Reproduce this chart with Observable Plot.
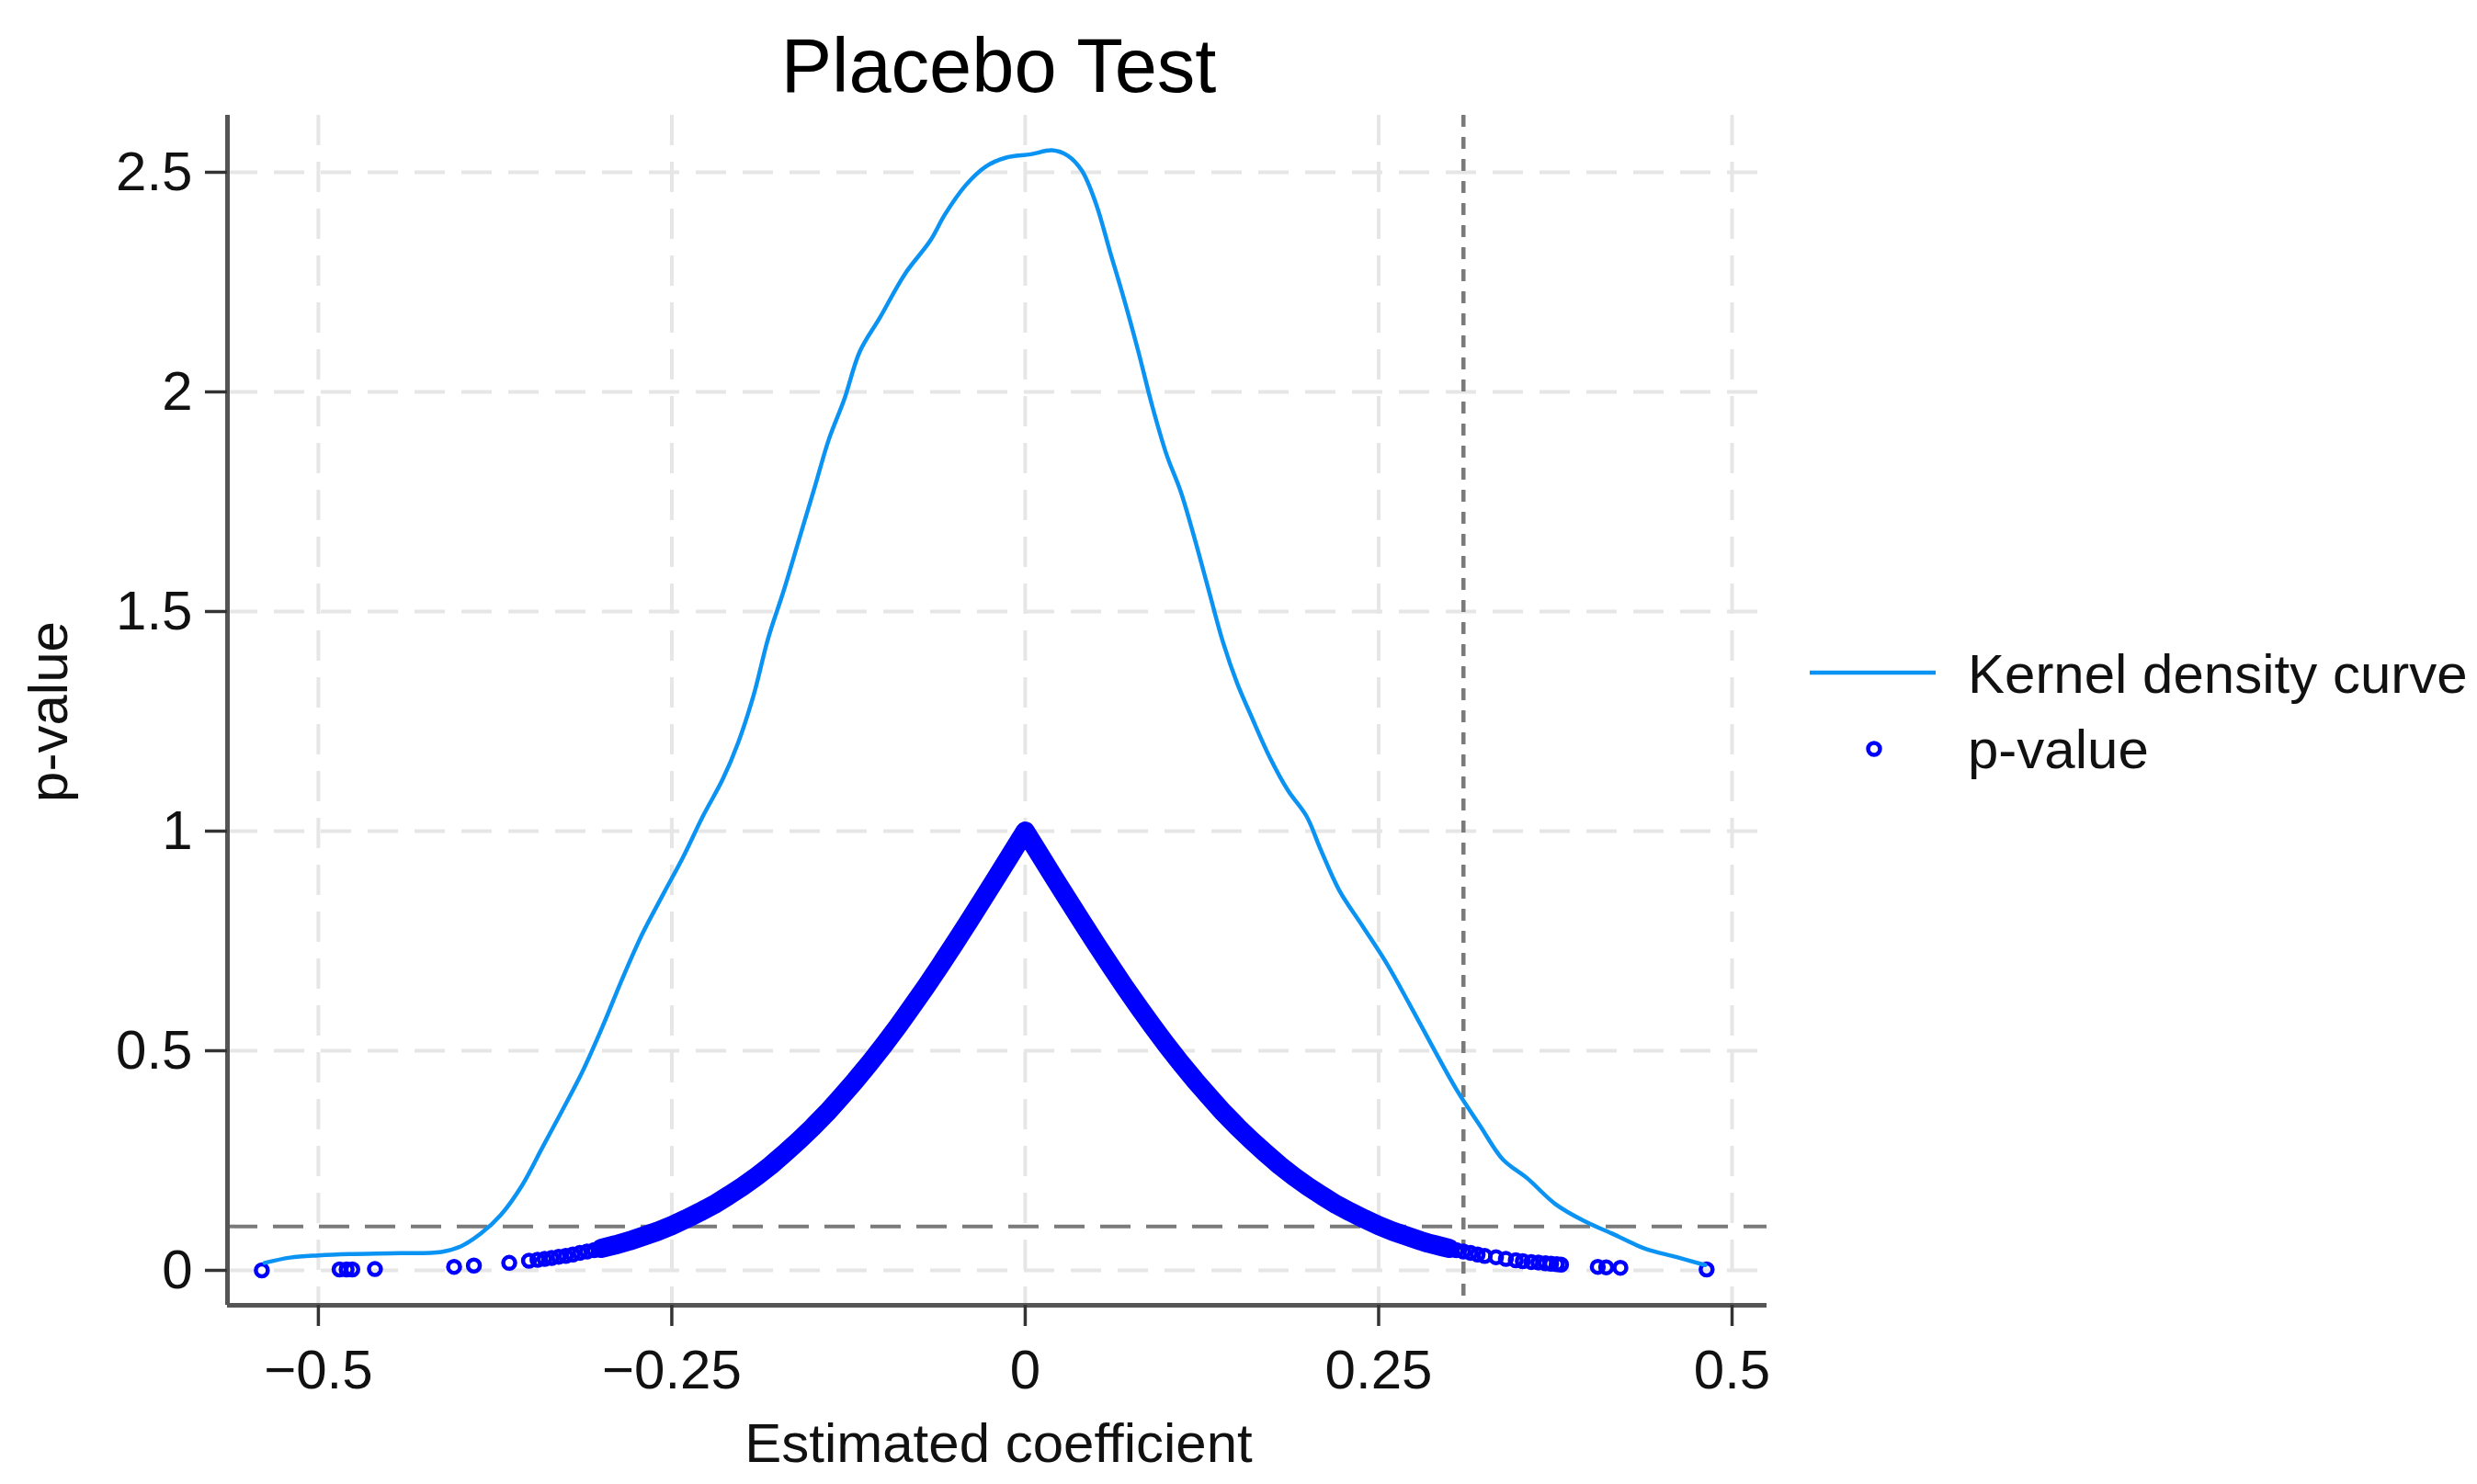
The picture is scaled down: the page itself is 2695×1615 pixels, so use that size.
<!DOCTYPE html>
<html>
<head>
<meta charset="utf-8">
<script src="https://cdn.jsdelivr.net/npm/d3@7"></script>
<script src="https://cdn.jsdelivr.net/npm/@observablehq/plot@0.6"></script>
<style>
html, body { margin: 0; padding: 0; background: #fff; }
#wrap { position: relative; width: 2695px; height: 1615px; font-family: "Liberation Sans", Arial, sans-serif; }
#wrap svg { position: absolute; left: 0; top: 0; }
.lg-text { position: absolute; left: 2141px; font-size: 60px; line-height: 60px; color: #111; white-space: nowrap; }
</style>
</head>
<body>
<div id="wrap"></div>
<script>
// ---- data ----
const xTicks = [-0.5, -0.25, 0, 0.25, 0.5];
const yTicks = [0, 0.5, 1, 1.5, 2, 2.5];
const titleText = "Placebo Test";
const xLabel = "Estimated coefficient";
const yLabel = "p-value";
const seriesNames = ["Kernel density curve", "p-value"];
const threshold = 0.1;     // horizontal dashed line
const trueEffect = 0.31;   // vertical dotted line

// kernel density curve
const kdeX = [-0.538,-0.520,-0.500,-0.478,-0.442,-0.413,-0.399,-0.385,-0.371,-0.356,-0.342,-0.328,-0.313,-0.299,-0.285,-0.271,-0.256,-0.242,-0.228,-0.214,-0.203,-0.192,-0.182,-0.171,-0.160,-0.149,-0.139,-0.128,-0.117,-0.103,-0.085,-0.067,-0.057,-0.042,-0.028,-0.014,0.004,0.019,0.030,0.040,0.050,0.060,0.070,0.080,0.090,0.100,0.110,0.120,0.130,0.140,0.150,0.160,0.173,0.186,0.199,0.209,0.222,0.239,0.256,0.272,0.289,0.305,0.322,0.338,0.355,0.375,0.395,0.415,0.438,0.461,0.481];
const kdeY = [0.017,0.029,0.034,0.037,0.039,0.042,0.055,0.084,0.126,0.193,0.277,0.361,0.454,0.555,0.664,0.765,0.857,0.941,1.034,1.118,1.202,1.311,1.437,1.546,1.664,1.782,1.891,1.983,2.092,2.168,2.269,2.345,2.403,2.471,2.513,2.533,2.541,2.550,2.538,2.504,2.429,2.319,2.210,2.092,1.966,1.857,1.773,1.664,1.546,1.429,1.336,1.261,1.168,1.092,1.034,0.958,0.866,0.782,0.697,0.605,0.504,0.412,0.328,0.252,0.210,0.151,0.113,0.084,0.050,0.030,0.012];

// p-value scatter
const coef = [-0.540,-0.485,-0.480,-0.476,-0.460,-0.404,-0.390,-0.365,-0.351,
  -0.345,-0.340,-0.335,-0.330,-0.325,-0.320,-0.315,-0.310,-0.305,-0.300,
  -0.29,-0.28,-0.27,-0.26,-0.25,-0.24,-0.23,-0.22,-0.21,-0.20,
  -0.19,-0.18,-0.17,-0.16,-0.15,-0.14,-0.13,-0.12,-0.11,-0.10,
  -0.09,-0.08,-0.07,-0.06,-0.05,-0.04,-0.03,-0.02,-0.01,0,
  0.01,0.02,0.03,0.04,0.05,0.06,0.07,0.08,0.09,0.10,
  0.11,0.12,0.13,0.14,0.15,0.16,0.17,0.18,0.19,0.20,
  0.21,0.22,0.23,0.24,0.25,0.26,0.27,0.28,
  0.285,0.29,0.295,0.30,0.305,0.31,0.315,0.320,0.325,0.333,0.340,0.347,0.352,0.358,0.363,0.368,0.372,0.376,0.379,0.405,0.411,0.421,0.482];
const pval = [0.000,0.002,0.002,0.002,0.003,0.008,0.011,0.017,0.022,
  0.024,0.026,0.028,0.031,0.033,0.036,0.040,0.043,0.046,0.050,
  0.058,0.067,0.078,0.089,0.102,0.117,0.133,0.150,0.170,0.191,
  0.214,0.239,0.267,0.296,0.327,0.360,0.396,0.433,0.472,0.513,
  0.556,0.601,0.647,0.695,0.744,0.794,0.845,0.896,0.948,1.000,
  0.948,0.896,0.845,0.794,0.744,0.695,0.647,0.601,0.556,0.513,
  0.472,0.433,0.396,0.360,0.327,0.296,0.267,0.239,0.214,0.191,
  0.170,0.150,0.133,0.117,0.102,0.089,0.078,0.067,
  0.062,0.058,0.054,0.050,0.046,0.043,0.040,0.036,0.033,0.030,0.026,0.023,0.021,0.019,0.018,0.016,0.015,0.014,0.013,0.008,0.007,0.006,0.002];

// ---- build tables ----
const density = kdeX.map((x, i) => ({x, y: kdeY[i]}));
const points = coef.map((x, i) => ({x, y: pval[i]}));
const dense = points.filter(d => Math.abs(d.x) <= 0.30);

const xDomain = [-0.5643, 0.5247];
const yDomain = [-0.0795, 2.6297];
const fmt = d => d < 0 ? "\u2212" + String(-d) : String(d);
const curveColor = "#0b93f3";
const dotColor = "#0000ff";

const chart = Plot.plot({
  width: 2695,
  height: 1615,
  marginLeft: 247,
  marginRight: 773,
  marginTop: 125,
  marginBottom: 195,
  style: {fontFamily: "Liberation Sans, Arial, sans-serif", fontSize: "60px", color: "#111", background: "#fff"},
  x: {domain: xDomain},
  y: {domain: yDomain},
  marks: [
    Plot.gridX(xTicks, {stroke: "#e6e6e6", strokeOpacity: 1, strokeWidth: 4, strokeDasharray: "33,18"}),
    Plot.gridY(yTicks, {stroke: "#e6e6e6", strokeOpacity: 1, strokeWidth: 4, strokeDasharray: "33,18"}),
    Plot.ruleY([threshold], {stroke: "#7a7a7a", strokeWidth: 4, strokeDasharray: "33,17"}),
    Plot.ruleX([trueEffect], {stroke: "#7a7a7a", strokeWidth: 4.5, strokeDasharray: "13,11"}),
    Plot.line(dense, {x: "x", y: "y", stroke: dotColor, strokeWidth: 21, strokeLinejoin: "round", strokeLinecap: "round"}),
    Plot.dot(points, {x: "x", y: "y", r: 6.5, stroke: dotColor, strokeWidth: 4.5, fill: "none"}),
    Plot.line(density, {x: "x", y: "y", stroke: curveColor, strokeWidth: 4.5, curve: "catmull-rom"}),
    Plot.ruleX([xDomain[0]], {stroke: "#555", strokeWidth: 5}),
    Plot.ruleY([yDomain[0]], {stroke: "#555", strokeWidth: 5}),
    Plot.axisX(xTicks, {tickSize: 23, tickPadding: 25, tickFormat: fmt, fontSize: 60, stroke: "#333", strokeWidth: 3.5, fill: "#111", label: null}),
    Plot.axisY(yTicks, {tickSize: 24, tickPadding: 14, tickFormat: fmt, fontSize: 60, stroke: "#333", strokeWidth: 3.5, fill: "#111", label: null}),
    Plot.text([titleText], {text: d => d, frameAnchor: "top", lineAnchor: "middle", textAnchor: "middle", dx: 1.5, dy: -51.6, fontSize: 83, fill: "#000"}),
    Plot.text([xLabel], {text: d => d, frameAnchor: "bottom", lineAnchor: "middle", textAnchor: "middle", dx: 1.5, dy: 150.8, fontSize: 60, fill: "#111"}),
    Plot.text([yLabel], {text: d => d, frameAnchor: "left", lineAnchor: "middle", textAnchor: "middle", dx: -194, dy: 1.5, rotate: -90, fontSize: 60, fill: "#111"})
  ]
});

const wrap = document.getElementById("wrap");
wrap.appendChild(chart);

// legend (HTML overlay, right side)
const ns = "http://www.w3.org/2000/svg";
const lg = document.createElementNS(ns, "svg");
lg.setAttribute("width", "200");
lg.setAttribute("height", "140");
lg.style.position = "absolute";
lg.style.left = "1950px";
lg.style.top = "700px";
const ln = document.createElementNS(ns, "line");
ln.setAttribute("x1", 19); ln.setAttribute("x2", 156);
ln.setAttribute("y1", 32); ln.setAttribute("y2", 32);
ln.setAttribute("stroke", curveColor); ln.setAttribute("stroke-width", 4.5);
lg.appendChild(ln);
const cc = document.createElementNS(ns, "circle");
cc.setAttribute("cx", 89); cc.setAttribute("cy", 115); cc.setAttribute("r", 6.5);
cc.setAttribute("fill", "none"); cc.setAttribute("stroke", dotColor); cc.setAttribute("stroke-width", 4.5);
lg.appendChild(cc);
wrap.appendChild(lg);

seriesNames.forEach((name, i) => {
  const t = document.createElement("div");
  t.className = "lg-text";
  t.style.top = (i === 0 ? 704 : 786) + "px";
  t.textContent = name;
  wrap.appendChild(t);
});
</script>
</body>
</html>
